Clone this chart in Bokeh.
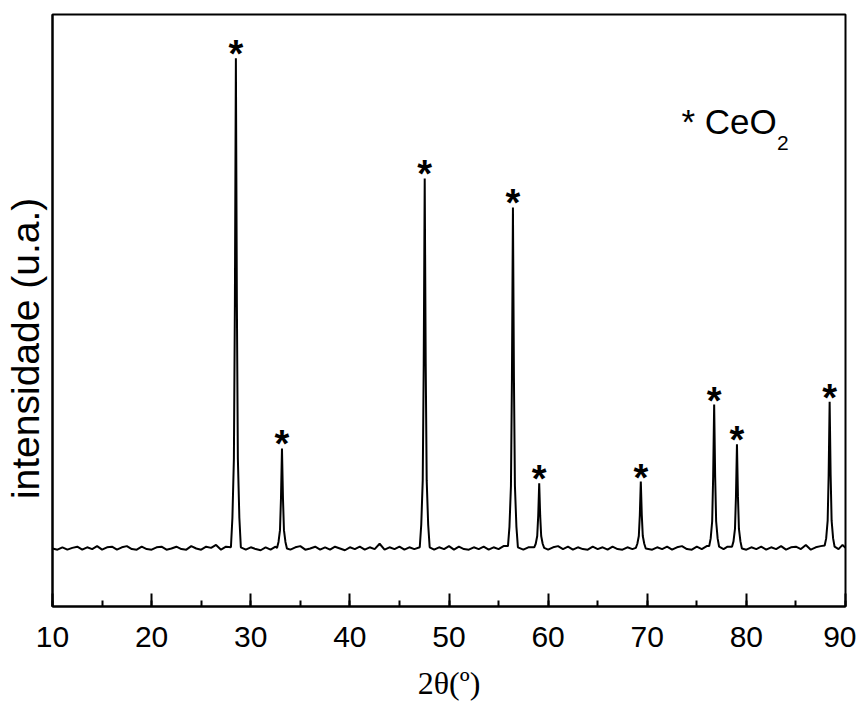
from bokeh.plotting import figure
from bokeh.models import Range1d, SingleIntervalTicker, FixedTicker, Label, ColumnDataSource
from bokeh.core.properties import value
from bokeh.embed import file_html
from bokeh.resources import INLINE

two_theta = [
    10.0, 10.5, 11.0, 11.5, 12.0, 12.5, 13.0, 13.5, 14.0, 14.5, 15.0, 15.5, 16.0, 16.5, 17.0, 17.5,
    18.0, 18.5, 19.0, 19.5, 20.0, 20.5, 21.0, 21.5, 22.0, 22.5, 23.0, 23.5, 24.0, 24.5, 25.0, 25.5,
    26.0, 26.5, 27.0, 27.5,
    28.0, 28.15, 28.3, 28.4, 28.5, 28.6, 28.7, 28.85, 29.0,
    29.5, 30.0, 30.5, 31.0, 31.5, 32.0, 32.5,
    32.65, 32.8, 32.95, 33.05, 33.15, 33.25, 33.35, 33.5, 33.65,
    34.0, 34.5, 35.0, 35.5, 36.0, 36.5, 37.0, 37.5, 38.0, 38.5, 39.0, 39.5, 40.0, 40.5, 41.0, 41.5,
    42.0, 42.5, 43.0, 43.5, 44.0, 44.5, 45.0, 45.5, 46.0, 46.5,
    47.05, 47.2, 47.35, 47.45, 47.55, 47.65, 47.75, 47.9, 48.05,
    48.5, 49.0, 49.5, 50.0, 50.5, 51.0, 51.5, 52.0, 52.5, 53.0, 53.5, 54.0, 54.5, 55.0, 55.5,
    55.95, 56.1, 56.25, 56.35, 56.45, 56.55, 56.65, 56.8, 56.95,
    57.5, 58.0,
    58.6, 58.75, 58.9, 59.0, 59.1, 59.2, 59.3, 59.45, 59.6,
    60.0, 60.5, 61.0, 61.5, 62.0, 62.5, 63.0, 63.5, 64.0, 64.5, 65.0, 65.5, 66.0, 66.5, 67.0, 67.5,
    68.0, 68.5,
    68.85, 69.0, 69.15, 69.25, 69.35, 69.45, 69.55, 69.7, 69.85,
    70.5, 71.0, 71.5, 72.0, 72.5, 73.0, 73.5, 74.0, 74.5, 75.0, 75.5, 76.0,
    76.25, 76.4, 76.55, 76.65, 76.75, 76.85, 76.95, 77.1, 77.25,
    77.7, 78.1,
    78.55, 78.7, 78.85, 78.95, 79.05, 79.15, 79.25, 79.4, 79.55,
    80.0, 80.5, 81.0, 81.5, 82.0, 82.5, 83.0, 83.5, 84.0, 84.5, 85.0, 85.5, 86.0, 86.5, 87.0, 87.5,
    87.9, 88.05, 88.2, 88.3, 88.4, 88.5, 88.6, 88.75, 88.9,
    89.3, 89.7, 90.0,
]
intensity = [
    98, 96, 100, 96, 99, 101, 96, 100, 97, 102, 96, 100, 101, 96, 100, 102,
    97, 96, 101, 97, 96, 100, 101, 96, 98, 101, 97, 96, 102, 98, 96, 101,
    99, 104, 96, 101,
    100, 150, 250, 512, 926, 512, 250, 150, 100,
    96, 100, 97, 95, 100, 96, 101,
    99, 109, 129, 183, 267, 183, 129, 109, 98,
    96, 100, 102, 96, 98, 101, 96, 100, 96, 101, 98, 95, 100, 97, 101, 96,
    100, 97, 106, 96, 100, 97, 101, 96, 100, 97,
    100, 138, 213, 410, 723, 410, 213, 138, 100,
    96, 100, 97, 102, 96, 101, 97, 96, 100, 97, 101, 96, 100, 97, 102,
    102, 135, 204, 386, 674, 386, 204, 135, 100,
    96, 100,
    100, 106, 119, 153, 208, 153, 119, 106, 99,
    96, 100, 102, 97, 101, 96, 100, 97, 96, 101, 97, 100, 96, 101, 97, 96,
    100, 97,
    99, 106, 119, 154, 211, 154, 119, 106, 98,
    96, 100, 97, 101, 96, 100, 102, 97, 96, 101, 97, 102,
    102, 115, 144, 220, 341, 220, 144, 115, 101,
    97, 101,
    101, 110, 131, 186, 274, 186, 131, 110, 98,
    96, 100, 97, 101, 96, 100, 97, 102, 96, 100, 101, 97, 104, 96, 100, 102,
    103, 115, 145, 222, 346, 222, 145, 115, 101,
    97, 104, 99,
]
# CeO2 reflections marked with '*'
peak_pos = [28.5, 33.15, 47.55, 56.45, 59.1, 69.35, 76.75, 79.05, 88.4]
peak_int = [926, 267, 723, 674, 208, 211, 341, 274, 346]
peak_mark = ["*"] * len(peak_pos)

x_start, x_end = 10, 90
y_start, y_end = 0, 1000

p = figure(frame_width=793, frame_height=592, output_backend="svg", toolbar_location=None,
           x_range=Range1d(x_start, x_end), y_range=Range1d(y_start, y_end),
           min_border_left=52, min_border_right=11, min_border_top=14, min_border_bottom=86)
p.background_fill_color = "white"
p.border_fill_color = "white"
p.outline_line_color = "black"
p.outline_line_width = 2
p.xgrid.visible = False
p.ygrid.visible = False

p.line(two_theta, intensity, line_color="black", line_width=2)

src = ColumnDataSource(dict(x=peak_pos, y=peak_int, t=peak_mark))
p.text(x="x", y="y", text="t", source=src, text_align="center", text_baseline="alphabetic",
       y_offset=-4, text_font=value("Liberation Sans"), text_font_size="38px",
       text_font_style="bold", text_color="black")

# x axis
xa = p.xaxis[0]
xa.ticker = SingleIntervalTicker(interval=10, num_minor_ticks=2)
xa.axis_line_width = 2
xa.axis_line_color = "black"
xa.major_tick_line_width = 2
xa.minor_tick_line_width = 2
xa.major_tick_in = 13
xa.major_tick_out = 0
xa.minor_tick_in = 6
xa.minor_tick_out = 0
xa.major_label_text_font = "Liberation Sans"
xa.major_label_text_font_size = "30px"
xa.major_label_text_color = "black"
xa.major_label_standoff = 20
xa.axis_label = "2θ(º)"
xa.axis_label_text_font = "Liberation Serif"
xa.axis_label_text_font_style = "normal"
xa.axis_label_text_font_size = "32px"
xa.axis_label_text_color = "black"
xa.axis_label_standoff = 15

# y axis (no ticks)
ya = p.yaxis[0]
ya.ticker = FixedTicker(ticks=[])
ya.axis_line_width = 2
ya.axis_line_color = "black"
ya.major_tick_in = 0
ya.major_tick_out = 0
ya.minor_tick_in = 0
ya.minor_tick_out = 0
ya.major_label_standoff = 0
ya.axis_label = "intensidade (u.a.)" + "\u00a0" * 7
ya.axis_label_text_font = "Liberation Sans"
ya.axis_label_text_font_style = "normal"
ya.axis_label_text_font_size = "39px"
ya.axis_label_text_color = "black"
ya.axis_label_standoff = 6

# legend-like annotation
p.add_layout(Label(x=73.45, y=819, text="* CeO", text_font="Liberation Sans",
                   text_font_size="35px", text_color="black", text_baseline="alphabetic"))
p.add_layout(Label(x=83.1, y=783, text="2", text_font="Liberation Sans",
                   text_font_size="21px", text_color="black", text_baseline="alphabetic"))

open("out.html", "w").write(file_html(p, INLINE))
